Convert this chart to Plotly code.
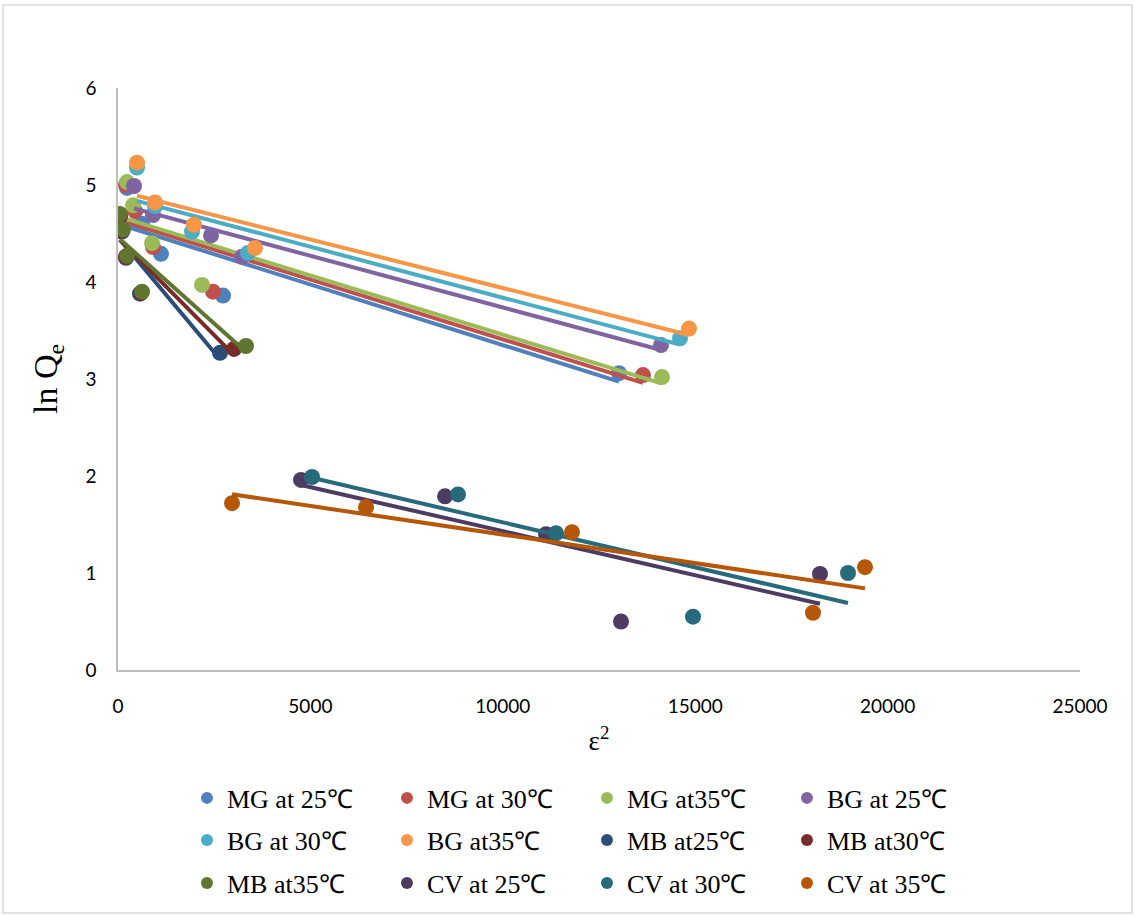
import numpy as np
import plotly.graph_objects as go

# Dubinin-Radushkevich plot: ln Qe versus epsilon^2 for each dye / temperature
series_names = [
    "MG at 25℃", "MG at 30℃", "MG at35℃", "BG at 25℃",
    "BG at 30℃", "BG at35℃", "MB at25℃", "MB at30℃",
    "MB at35℃", "CV at 25℃", "CV at 30℃", "CV at 35℃",
]
series_colors = [
    "#4F81BD", "#C0504D", "#9BBB59", "#8064A2",
    "#4BACC6", "#F79646", "#2C4D75", "#772C2A",
    "#5F7530", "#4D3B62", "#276A7C", "#B65708",
]

mg25_x = [234, 624, 1117, 2729, 13020]
mg25_y = [4.97, 4.60, 4.29, 3.86, 3.06]
mg30_x = [208, 442, 910, 2469, 13643]
mg30_y = [5.00, 4.73, 4.36, 3.90, 3.04]
mg35_x = [234, 390, 884, 2183, 14137]
mg35_y = [5.03, 4.79, 4.40, 3.97, 3.02]
bg25_x = [416, 910, 2417, 3222, 14111]
bg25_y = [4.99, 4.69, 4.48, 4.26, 3.35]
bg30_x = [494, 962, 1923, 3378, 14605]
bg30_y = [5.18, 4.78, 4.52, 4.30, 3.42]
bg35_x = [494, 962, 1975, 3560, 14839]
bg35_y = [5.23, 4.82, 4.59, 4.35, 3.52]
mb25_x = [52, 104, 208, 572, 2651]
mb25_y = [4.68, 4.52, 4.25, 3.88, 3.27]
mb30_x = [52, 104, 208, 600, 3015]
mb30_y = [4.68, 4.53, 4.26, 3.89, 3.31]
mb35_x = [52, 130, 234, 624, 3326]
mb35_y = [4.70, 4.54, 4.27, 3.90, 3.34]
cv25_x = [4756, 8498, 11123, 13072, 18243]
cv25_y = [1.96, 1.79, 1.40, 0.50, 0.99]
cv30_x = [5042, 8836, 11383, 14943, 18971]
cv30_y = [1.99, 1.81, 1.41, 0.55, 1.00]
cv35_x = [2963, 6445, 11798, 18061, 19412]
cv35_y = [1.72, 1.68, 1.42, 0.59, 1.06]

series_x = [mg25_x, mg30_x, mg35_x, bg25_x, bg30_x, bg35_x,
            mb25_x, mb30_x, mb35_x, cv25_x, cv30_x, cv35_x]
series_y = [mg25_y, mg30_y, mg35_y, bg25_y, bg30_y, bg35_y,
            mb25_y, mb30_y, mb35_y, cv25_y, cv30_y, cv35_y]

x_ticks = [0, 5000, 10000, 15000, 20000, 25000]
y_ticks = [0, 1, 2, 3, 4, 5, 6]

# the legend is laid out as three rows of four entries
legend_ids = ["legend", "legend2", "legend3"]

fig = go.Figure()

for i, (name, color, xs, ys) in enumerate(zip(series_names, series_colors, series_x, series_y)):
    xs = np.asarray(xs, dtype=float)
    ys = np.asarray(ys, dtype=float)
    # linear trendline over the span of the data
    slope, intercept = np.polyfit(xs, ys, 1)
    fit_x = np.array([xs.min(), xs.max()])
    fit_y = slope * fit_x + intercept
    fig.add_trace(go.Scatter(
        x=fit_x, y=fit_y, mode="lines",
        line=dict(color=color, width=4),
        showlegend=False, hoverinfo="skip",
    ))
    fig.add_trace(go.Scatter(
        x=xs, y=ys, mode="markers", name=name,
        marker=dict(color=color, size=16, symbol="circle"),
        legend=legend_ids[i // 4],
    ))

axis_line = "#BFBFBF"
fig.update_xaxes(
    range=[0, 25000], tickvals=x_ticks, ticktext=[str(v) for v in x_ticks],
    showgrid=False, zeroline=False, showline=True, linecolor=axis_line, linewidth=1.5,
    ticks="", ticklabelstandoff=18,
    tickfont=dict(family="Lato", size=19, color="#000000"),
    title=dict(text="ε<sup>2</sup>", standoff=16,
               font=dict(family="Liberation Serif", size=27, color="#000000")),
)
fig.update_yaxes(
    range=[0, 6], tickvals=y_ticks, ticktext=[str(v) for v in y_ticks],
    showgrid=False, zeroline=False, showline=True, linecolor=axis_line, linewidth=1.5,
    ticks="", ticklabelstandoff=16,
    tickfont=dict(family="Lato", size=19, color="#000000"),
    title=dict(text="ln Q<sub>e</sub>", standoff=18,
               font=dict(family="Liberation Serif", size=34, color="#000000")),
)

legend_rows_y = [-0.2199, -0.2921, -0.366]
legend_common = dict(
    orientation="h", x=0.0717, xanchor="left", yanchor="middle",
    entrywidth=155, entrywidthmode="pixels",
    font=dict(family="Liberation Serif", size=26, color="#000000"),
    itemsizing="constant", traceorder="normal", bgcolor="rgba(0,0,0,0)",
)

fig.update_layout(
    width=1135, height=916,
    margin=dict(l=118, r=55, t=88, b=246, autoexpand=False),
    paper_bgcolor="#FFFFFF", plot_bgcolor="#FFFFFF",
    showlegend=True,
    legend=dict(y=legend_rows_y[0], **legend_common),
    legend2=dict(y=legend_rows_y[1], **legend_common),
    legend3=dict(y=legend_rows_y[2], **legend_common),
    shapes=[dict(
        type="rect", xref="paper", yref="paper",
        x0=(3 - 118) / 962, x1=(1132 - 118) / 962,
        y0=(670 - 913) / 582, y1=(670 - 5) / 582,
        line=dict(color="#D9D9D9", width=1.5), fillcolor="rgba(0,0,0,0)", layer="below",
    )],
)

fig.write_html("out.html")
